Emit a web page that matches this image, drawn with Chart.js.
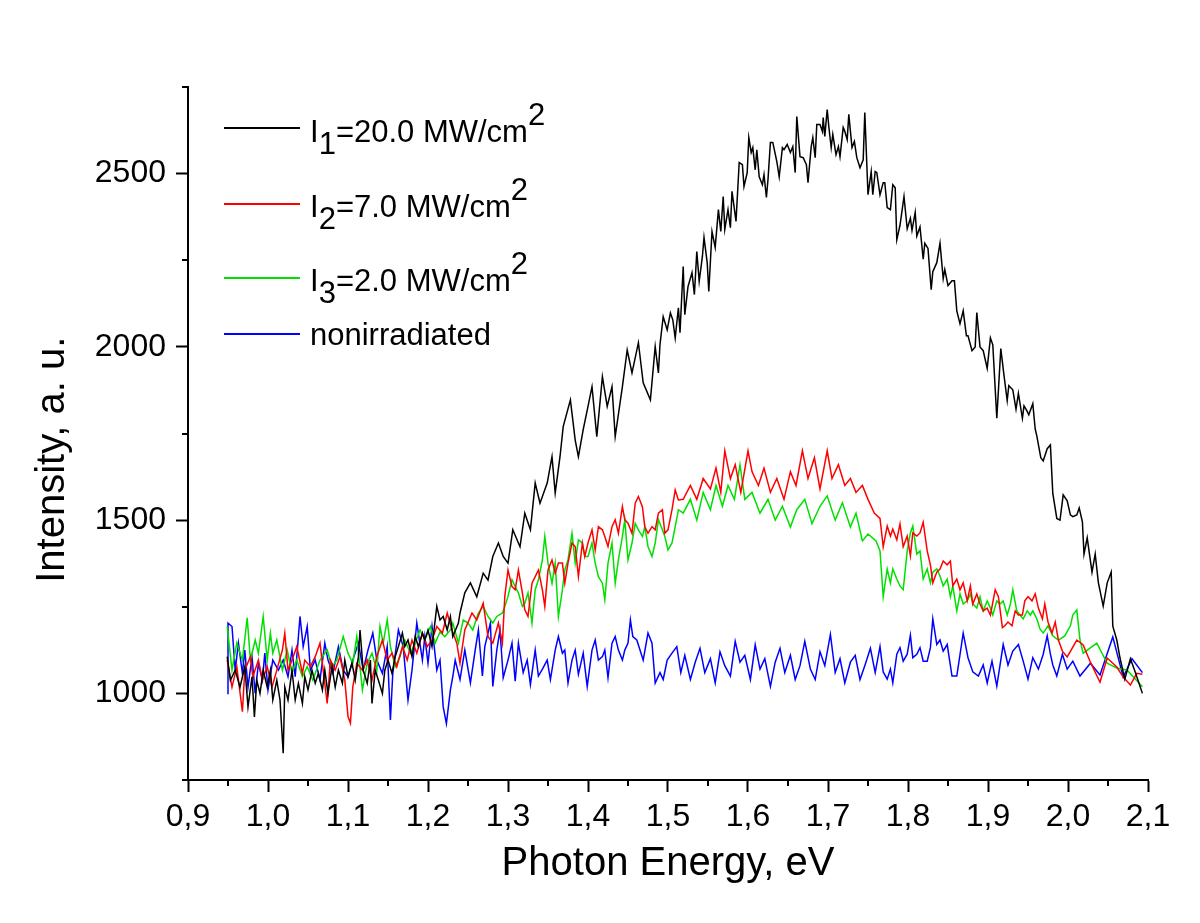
<!DOCTYPE html>
<html>
<head>
<meta charset="utf-8">
<script src="https://cdn.jsdelivr.net/npm/chart.js@4.4.1/dist/chart.umd.min.js"></script>
<style>
  html, body { margin: 0; padding: 0; background: #fff; }
  #wrap { position: relative; width: 1200px; height: 923px; }
  #chart { position: absolute; left: 0; top: 0; }
  .lg-line { position: absolute; left: 224px; width: 76px; height: 2px; }
  .lg-text { position: absolute; left: 310px; font-family: "Liberation Sans", Arial, sans-serif; font-size: 31px; line-height: 31px; color: #000; white-space: nowrap; }
  .sub { position: relative; top: 12px; }
  .sup { position: relative; top: -17px; }
</style>
</head>
<body>
<div id="wrap">
  <canvas id="chart" width="1200" height="923"></canvas>
  <div class="lg-line" style="top:127px;background:#000000"></div>
  <div class="lg-text" style="top:116px">I<span class="sub">1</span>=20.0 MW/cm<span class="sup">2</span></div>
  <div class="lg-line" style="top:203px;background:#ff0000"></div>
  <div class="lg-text" style="top:191px">I<span class="sub">2</span>=7.0 MW/cm<span class="sup">2</span></div>
  <div class="lg-line" style="top:277px;background:#00e000"></div>
  <div class="lg-text" style="top:265px">I<span class="sub">3</span>=2.0 MW/cm<span class="sup">2</span></div>
  <div class="lg-line" style="top:333px;background:#0000ff"></div>
  <div class="lg-text" style="top:319px">nonirradiated</div>
</div>
<script>
// ---- Data (photon energy in eV, intensity in a.u.) ----
const seriesNames = ["I1=20.0 MW/cm2", "I2=7.0 MW/cm2", "I3=2.0 MW/cm2", "nonirradiated"];
const xTickRange = [0.9, 2.1];
const yTickRange = [750, 2750];

const seriesBlack = [
[0.949,1106],[0.953,1038],[0.959,1067],[0.965,1018],[0.971,1077],[0.975,961],[0.980,1048],[0.983,932],[0.986,1038],[0.990,1000],[0.994,1067],[0.999,1018],[1.003,1067],[1.006,981],[1.011,1038],[1.015,981],[1.019,827],[1.021,1018],[1.025,981],[1.030,1067],[1.034,981],[1.038,1029],[1.043,971],[1.046,1048],[1.050,1010],[1.055,1067],[1.059,1029],[1.063,1058],[1.068,1010],[1.071,1067],[1.075,1000],[1.080,1077],[1.084,1018],[1.088,1067],[1.093,1029],[1.096,1096],[1.100,1048],[1.105,1087],[1.109,1038],[1.113,1106],[1.115,1183],[1.119,1067],[1.124,1029],[1.128,1096],[1.130,971],[1.134,1067],[1.138,1038],[1.143,1000],[1.146,1067],[1.150,1096],[1.155,1058],[1.159,1106],[1.163,1135],[1.168,1174],[1.171,1135],[1.175,1154],[1.180,1106],[1.184,1164],[1.188,1135],[1.193,1174],[1.196,1154],[1.200,1183],[1.205,1135],[1.209,1212],[1.211,1251],[1.215,1212],[1.219,1222],[1.224,1183],[1.228,1222],[1.231,1164],[1.238,1203],[1.240,1232],[1.246,1290],[1.253,1319],[1.261,1279],[1.269,1347],[1.275,1327],[1.281,1395],[1.288,1434],[1.294,1395],[1.300,1376],[1.306,1472],[1.315,1423],[1.321,1520],[1.328,1472],[1.334,1607],[1.340,1549],[1.349,1607],[1.355,1683],[1.359,1578],[1.365,1683],[1.369,1770],[1.378,1847],[1.384,1731],[1.388,1683],[1.394,1761],[1.400,1828],[1.405,1885],[1.411,1741],[1.418,1914],[1.424,1828],[1.430,1885],[1.434,1741],[1.443,1885],[1.449,1991],[1.455,1925],[1.463,2012],[1.469,1896],[1.478,1847],[1.484,2001],[1.488,1925],[1.490,2007],[1.494,2087],[1.499,2049],[1.503,2098],[1.506,2078],[1.509,2026],[1.513,2113],[1.515,2041],[1.519,2232],[1.521,2093],[1.525,2174],[1.530,2214],[1.533,2151],[1.536,2275],[1.539,2189],[1.543,2261],[1.545,2316],[1.549,2243],[1.551,2160],[1.555,2333],[1.559,2287],[1.563,2396],[1.566,2333],[1.569,2434],[1.571,2339],[1.575,2396],[1.578,2344],[1.580,2449],[1.585,2362],[1.589,2532],[1.593,2526],[1.595,2463],[1.599,2503],[1.601,2604],[1.604,2561],[1.606,2575],[1.609,2511],[1.611,2569],[1.614,2491],[1.618,2468],[1.620,2497],[1.623,2431],[1.625,2483],[1.628,2590],[1.631,2590],[1.636,2535],[1.639,2491],[1.643,2575],[1.645,2569],[1.649,2584],[1.653,2561],[1.656,2578],[1.659,2503],[1.661,2665],[1.665,2549],[1.669,2546],[1.673,2526],[1.675,2474],[1.679,2578],[1.681,2604],[1.684,2546],[1.686,2642],[1.690,2642],[1.693,2622],[1.694,2662],[1.696,2607],[1.699,2685],[1.701,2636],[1.704,2575],[1.706,2613],[1.710,2555],[1.713,2578],[1.715,2549],[1.719,2633],[1.721,2622],[1.724,2598],[1.726,2671],[1.730,2575],[1.733,2593],[1.736,2546],[1.740,2517],[1.744,2540],[1.746,2676],[1.750,2439],[1.754,2506],[1.756,2439],[1.759,2506],[1.761,2503],[1.765,2439],[1.769,2474],[1.771,2474],[1.774,2402],[1.778,2396],[1.781,2468],[1.784,2459],[1.786,2309],[1.790,2351],[1.795,2434],[1.799,2341],[1.803,2371],[1.805,2336],[1.809,2388],[1.811,2320],[1.815,2346],[1.819,2253],[1.821,2299],[1.825,2284],[1.829,2165],[1.831,2217],[1.836,2243],[1.840,2299],[1.844,2197],[1.846,2223],[1.850,2177],[1.855,2191],[1.858,2191],[1.861,2104],[1.865,2067],[1.869,2104],[1.873,2032],[1.875,2032],[1.880,1989],[1.884,2000],[1.886,2099],[1.890,2000],[1.894,1989],[1.899,1938],[1.903,2026],[1.906,2006],[1.911,1794],[1.916,1995],[1.920,1918],[1.924,1845],[1.926,1888],[1.931,1876],[1.935,1820],[1.938,1866],[1.943,1794],[1.945,1830],[1.949,1814],[1.951,1804],[1.956,1836],[1.959,1763],[1.961,1743],[1.966,1680],[1.969,1671],[1.974,1706],[1.978,1717],[1.981,1577],[1.986,1505],[1.990,1500],[1.994,1573],[1.999,1556],[2.003,1515],[2.006,1510],[2.011,1515],[2.014,1535],[2.018,1495],[2.020,1402],[2.024,1449],[2.030,1350],[2.034,1402],[2.038,1319],[2.044,1252],[2.049,1319],[2.054,1350],[2.056,1194],[2.061,1154],[2.065,1102],[2.071,1041],[2.078,1100],[2.084,1062],[2.093,1000]
];

const seriesRed = [
[0.949,1096],[0.955,1018],[0.961,1077],[0.968,947],[0.971,1067],[0.978,1106],[0.981,1048],[0.988,1096],[0.993,1038],[0.999,1077],[1.005,1018],[1.011,1067],[1.018,1125],[1.021,1174],[1.025,1067],[1.030,1096],[1.036,1135],[1.043,1058],[1.046,1096],[1.053,1077],[1.059,1106],[1.065,1145],[1.069,1067],[1.074,971],[1.078,1096],[1.084,1067],[1.090,1106],[1.096,1038],[1.100,933],[1.103,914],[1.106,1018],[1.111,1087],[1.118,1067],[1.124,1096],[1.130,1038],[1.136,1106],[1.143,1154],[1.149,1096],[1.155,1116],[1.161,1077],[1.168,1135],[1.174,1096],[1.180,1154],[1.186,1116],[1.193,1174],[1.199,1135],[1.205,1154],[1.211,1193],[1.218,1174],[1.224,1232],[1.230,1183],[1.236,1145],[1.240,1087],[1.246,1183],[1.255,1232],[1.261,1212],[1.269,1260],[1.275,1164],[1.281,1145],[1.288,1203],[1.293,1145],[1.296,1280],[1.300,1356],[1.305,1308],[1.309,1299],[1.313,1356],[1.318,1290],[1.321,1241],[1.325,1222],[1.330,1318],[1.334,1337],[1.338,1356],[1.343,1299],[1.346,1251],[1.350,1356],[1.355,1385],[1.359,1347],[1.363,1376],[1.368,1376],[1.371,1318],[1.375,1376],[1.380,1434],[1.384,1424],[1.388,1337],[1.393,1434],[1.396,1395],[1.400,1434],[1.405,1472],[1.409,1414],[1.413,1481],[1.418,1472],[1.421,1453],[1.425,1424],[1.430,1481],[1.434,1501],[1.438,1462],[1.443,1539],[1.446,1501],[1.450,1491],[1.455,1462],[1.459,1549],[1.463,1568],[1.468,1539],[1.471,1481],[1.475,1462],[1.480,1481],[1.484,1472],[1.488,1520],[1.493,1530],[1.496,1462],[1.500,1472],[1.505,1530],[1.509,1587],[1.513,1558],[1.519,1560],[1.528,1600],[1.536,1560],[1.544,1620],[1.553,1590],[1.560,1650],[1.566,1580],[1.571,1700],[1.578,1620],[1.584,1660],[1.591,1580],[1.600,1700],[1.605,1640],[1.613,1600],[1.620,1650],[1.628,1580],[1.636,1620],[1.645,1560],[1.653,1640],[1.660,1600],[1.668,1700],[1.675,1620],[1.683,1680],[1.690,1590],[1.699,1700],[1.705,1620],[1.713,1660],[1.721,1600],[1.728,1620],[1.735,1580],[1.743,1600],[1.750,1560],[1.758,1520],[1.765,1505],[1.769,1423],[1.774,1483],[1.778,1454],[1.781,1474],[1.786,1443],[1.790,1489],[1.794,1423],[1.799,1454],[1.803,1397],[1.806,1463],[1.811,1454],[1.815,1463],[1.819,1494],[1.824,1411],[1.828,1371],[1.831,1319],[1.836,1350],[1.840,1359],[1.844,1382],[1.849,1371],[1.853,1382],[1.856,1310],[1.861,1330],[1.865,1299],[1.869,1319],[1.874,1267],[1.878,1310],[1.881,1258],[1.886,1287],[1.890,1258],[1.894,1238],[1.899,1246],[1.903,1226],[1.909,1299],[1.913,1279],[1.918,1190],[1.921,1195],[1.925,1206],[1.930,1195],[1.934,1238],[1.938,1226],[1.943,1226],[1.946,1267],[1.950,1279],[1.955,1267],[1.959,1287],[1.963,1246],[1.968,1215],[1.971,1258],[1.975,1206],[1.980,1174],[1.984,1206],[1.988,1154],[1.993,1122],[1.999,1105],[2.011,1154],[2.019,1140],[2.028,1090],[2.040,1032],[2.049,1102],[2.061,1076],[2.069,1047],[2.078,1024],[2.086,1058],[2.093,1055]
];

const seriesGreen = [
[0.949,1193],[0.955,1067],[0.961,1145],[0.968,1096],[0.974,1218],[0.978,1096],[0.984,1154],[0.988,1116],[0.994,1222],[0.999,1096],[1.003,1174],[1.006,1116],[1.011,1154],[1.018,1067],[1.024,1125],[1.030,1058],[1.036,1096],[1.043,1048],[1.049,1077],[1.056,1038],[1.065,1096],[1.074,1125],[1.080,1077],[1.086,1096],[1.094,1164],[1.100,1116],[1.106,1087],[1.111,1164],[1.118,1010],[1.124,1087],[1.130,1116],[1.136,1067],[1.140,1193],[1.144,1145],[1.149,1212],[1.153,1135],[1.159,1077],[1.165,1106],[1.171,1154],[1.178,1116],[1.184,1145],[1.190,1183],[1.196,1154],[1.203,1193],[1.209,1145],[1.215,1177],[1.221,1164],[1.228,1183],[1.231,1203],[1.238,1145],[1.244,1212],[1.250,1203],[1.256,1183],[1.263,1232],[1.269,1251],[1.275,1222],[1.281,1203],[1.286,1222],[1.293,1232],[1.296,1251],[1.300,1280],[1.305,1328],[1.309,1308],[1.313,1290],[1.318,1251],[1.321,1260],[1.325,1290],[1.330,1203],[1.334,1299],[1.338,1328],[1.343,1385],[1.346,1453],[1.350,1376],[1.355,1318],[1.359,1376],[1.363,1222],[1.368,1299],[1.371,1356],[1.375,1385],[1.380,1462],[1.384,1376],[1.388,1443],[1.393,1434],[1.396,1395],[1.400,1395],[1.405,1434],[1.409,1376],[1.413,1337],[1.418,1318],[1.421,1270],[1.425,1376],[1.430,1434],[1.434,1318],[1.438,1385],[1.443,1453],[1.446,1501],[1.450,1385],[1.455,1434],[1.459,1491],[1.463,1472],[1.468,1453],[1.471,1481],[1.475,1424],[1.480,1395],[1.484,1434],[1.488,1501],[1.493,1472],[1.496,1453],[1.500,1414],[1.505,1434],[1.509,1481],[1.513,1530],[1.519,1520],[1.528,1560],[1.536,1500],[1.544,1580],[1.553,1530],[1.560,1600],[1.568,1540],[1.575,1600],[1.583,1560],[1.590,1660],[1.596,1560],[1.605,1580],[1.615,1520],[1.625,1560],[1.634,1500],[1.643,1540],[1.653,1480],[1.661,1530],[1.671,1560],[1.680,1490],[1.690,1540],[1.699,1570],[1.709,1500],[1.718,1550],[1.728,1480],[1.735,1520],[1.743,1440],[1.750,1460],[1.760,1440],[1.765,1411],[1.769,1279],[1.774,1359],[1.778,1319],[1.781,1359],[1.786,1330],[1.790,1310],[1.794,1299],[1.799,1411],[1.803,1463],[1.806,1483],[1.811,1402],[1.815,1411],[1.819,1330],[1.824,1359],[1.828,1319],[1.831,1350],[1.836,1359],[1.840,1339],[1.844,1310],[1.849,1330],[1.853,1279],[1.856,1310],[1.861,1238],[1.865,1287],[1.869,1258],[1.874,1267],[1.878,1287],[1.881,1258],[1.886,1246],[1.890,1279],[1.894,1238],[1.899,1267],[1.903,1246],[1.906,1226],[1.911,1267],[1.915,1258],[1.919,1267],[1.924,1226],[1.928,1258],[1.931,1299],[1.936,1238],[1.940,1226],[1.944,1215],[1.949,1238],[1.953,1226],[1.956,1238],[1.961,1215],[1.965,1186],[1.969,1174],[1.975,1195],[1.981,1166],[1.988,1154],[1.996,1166],[2.003,1195],[2.006,1226],[2.011,1241],[2.015,1154],[2.019,1116],[2.036,1145],[2.049,1087],[2.061,1073],[2.074,1067],[2.093,1019]
];

const seriesBlue = [
[0.949,1000],[0.950,1203],[0.955,1193],[0.959,1067],[0.963,1145],[0.968,1058],[0.971,1125],[0.975,1018],[0.980,1106],[0.984,1000],[0.988,1087],[0.993,1038],[0.996,1116],[1.000,1010],[1.006,1096],[1.013,1067],[1.019,1096],[1.025,1048],[1.030,1125],[1.034,1048],[1.040,1222],[1.044,1135],[1.049,1193],[1.053,1067],[1.059,1096],[1.065,1038],[1.071,1145],[1.075,1096],[1.081,1058],[1.088,1135],[1.094,1067],[1.100,1048],[1.106,1096],[1.113,1145],[1.119,1067],[1.125,1125],[1.131,1174],[1.136,1096],[1.143,1058],[1.149,1135],[1.153,923],[1.156,1058],[1.163,1183],[1.169,1135],[1.175,981],[1.180,1067],[1.186,1203],[1.193,1096],[1.196,1164],[1.200,1087],[1.205,1193],[1.211,1067],[1.215,1096],[1.219,961],[1.223,913],[1.228,1010],[1.231,1048],[1.234,1096],[1.240,1040],[1.246,1125],[1.253,1030],[1.259,1125],[1.263,1183],[1.268,1050],[1.271,1135],[1.278,1203],[1.281,1020],[1.286,1125],[1.290,1183],[1.294,1045],[1.300,1096],[1.305,1145],[1.309,1035],[1.313,1145],[1.319,1060],[1.324,1096],[1.328,1025],[1.334,1125],[1.338,1050],[1.343,1070],[1.349,1096],[1.353,1040],[1.359,1125],[1.363,1164],[1.368,1116],[1.371,1125],[1.375,1030],[1.380,1096],[1.384,1125],[1.388,1055],[1.394,1116],[1.399,1020],[1.405,1125],[1.409,1154],[1.413,1096],[1.418,1106],[1.421,1125],[1.425,1045],[1.430,1145],[1.434,1164],[1.438,1125],[1.443,1096],[1.446,1125],[1.450,1145],[1.453,1212],[1.456,1164],[1.461,1154],[1.465,1125],[1.469,1096],[1.475,1174],[1.480,1145],[1.484,1030],[1.490,1060],[1.494,1040],[1.499,1096],[1.505,1116],[1.511,1135],[1.516,1060],[1.521,1110],[1.528,1040],[1.534,1090],[1.540,1130],[1.546,1060],[1.553,1100],[1.559,1030],[1.565,1120],[1.571,1080],[1.578,1050],[1.584,1150],[1.590,1090],[1.596,1110],[1.603,1040],[1.609,1140],[1.615,1070],[1.621,1100],[1.628,1020],[1.634,1090],[1.640,1130],[1.646,1060],[1.653,1110],[1.659,1040],[1.665,1080],[1.671,1150],[1.678,1070],[1.684,1040],[1.690,1120],[1.696,1080],[1.703,1170],[1.709,1060],[1.715,1100],[1.721,1030],[1.728,1090],[1.734,1110],[1.740,1040],[1.746,1080],[1.753,1130],[1.759,1060],[1.765,1135],[1.769,1062],[1.774,1041],[1.778,1070],[1.781,1030],[1.786,1113],[1.790,1132],[1.794,1093],[1.799,1113],[1.803,1168],[1.806,1103],[1.811,1113],[1.815,1132],[1.819,1093],[1.824,1093],[1.828,1132],[1.831,1215],[1.836,1141],[1.840,1154],[1.844,1122],[1.849,1141],[1.855,1050],[1.861,1050],[1.869,1174],[1.875,1103],[1.881,1062],[1.888,1050],[1.894,1082],[1.899,1030],[1.905,1093],[1.911,1021],[1.919,1141],[1.925,1082],[1.931,1122],[1.938,1141],[1.944,1093],[1.950,1041],[1.956,1103],[1.963,1070],[1.969,1113],[1.974,1166],[1.978,1113],[1.981,1082],[1.986,1050],[1.993,1113],[1.999,1070],[2.006,1093],[2.015,1050],[2.028,1087],[2.040,1053],[2.056,1163],[2.069,1047],[2.080,1100],[2.093,1060]
];

// ---- Chart ----
const FONT = '"Liberation Sans", Arial, sans-serif';
const isMajorX = v => Math.abs(v * 10 - Math.round(v * 10)) < 1e-6;
const isMajorY = v => Math.abs(v % 500) < 1e-6;
const toXY = arr => arr.map(p => ({ x: p[0], y: p[1] }));

const minorTicks = {
  id: 'minorTicks',
  afterDraw(chart) {
    const { ctx, chartArea } = chart;
    const xs = chart.scales.x, ys = chart.scales.y;
    ctx.save();
    ctx.strokeStyle = '#000';
    ctx.lineWidth = 2;
    ctx.beginPath();
    xs.ticks.forEach(t => {
      if (!isMajorX(t.value)) {
        const p = Math.round(xs.getPixelForValue(t.value));
        ctx.moveTo(p, chartArea.bottom);
        ctx.lineTo(p, chartArea.bottom + 6);
      }
    });
    ys.ticks.forEach(t => {
      if (!isMajorY(t.value)) {
        const p = Math.round(ys.getPixelForValue(t.value));
        ctx.moveTo(chartArea.left, p);
        ctx.lineTo(chartArea.left - 6, p);
      }
    });
    ctx.stroke();
    ctx.restore();
  }
};

const colors = ['#000000', '#ff0000', '#00e000', '#0000ff'];
const allSeries = [seriesBlack, seriesRed, seriesGreen, seriesBlue];

new Chart(document.getElementById('chart'), {
  type: 'line',
  data: {
    datasets: allSeries.map((s, i) => ({
      label: seriesNames[i],
      data: toXY(s),
      borderColor: colors[i],
      backgroundColor: colors[i],
      borderWidth: 1.5,
      pointRadius: 0,
      tension: 0,
      fill: false,
      order: i
    }))
  },
  options: {
    responsive: false,
    devicePixelRatio: 1,
    animation: false,
    parsing: true,
    layout: { autoPadding: false, padding: { left: 0, top: 87, right: 52, bottom: 0 } },
    plugins: { legend: { display: false }, tooltip: { enabled: false } },
    scales: {
      x: {
        type: 'linear',
        min: xTickRange[0],
        max: xTickRange[1],
        afterFit: s => { s.height = 143; },
        border: { display: true, color: '#000', width: 2 },
        grid: {
          drawOnChartArea: false,
          drawTicks: true,
          tickLength: 12,
          tickWidth: 2,
          tickColor: c => (c.tick && isMajorX(c.tick.value)) ? '#000' : 'rgba(0,0,0,0)'
        },
        ticks: {
          stepSize: 0.05,
          autoSkip: false,
          maxRotation: 0,
          padding: 6,
          color: '#000',
          font: { family: FONT, size: 32 },
          callback: v => isMajorX(v) ? (Math.round(v * 10) / 10).toFixed(1).replace('.', ',') : ''
        },
        title: {
          display: true,
          text: 'Photon Energy, eV',
          color: '#000',
          font: { family: FONT, size: 40 },
          padding: { top: 0, bottom: 35 }
        }
      },
      y: {
        type: 'linear',
        min: yTickRange[0],
        max: yTickRange[1],
        afterFit: s => { s.width = 188; },
        border: { display: true, color: '#000', width: 2 },
        grid: {
          drawOnChartArea: false,
          drawTicks: true,
          tickLength: 12,
          tickWidth: 2,
          tickColor: c => (c.tick && isMajorY(c.tick.value)) ? '#000' : 'rgba(0,0,0,0)'
        },
        ticks: {
          stepSize: 250,
          autoSkip: false,
          padding: 10,
          color: '#000',
          font: { family: FONT, size: 32 },
          callback: v => isMajorY(v) ? String(v) : ''
        },
        title: {
          display: true,
          text: 'Intensity, a. u.    \u2009',
          color: '#000',
          font: { family: FONT, size: 40 },
          padding: { top: 29, bottom: 0 }
        }
      }
    }
  },
  plugins: [minorTicks]
});
</script>
</body>
</html>
